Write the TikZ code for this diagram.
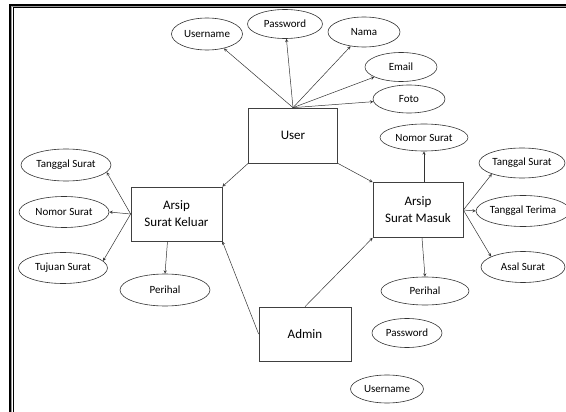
\documentclass[tikz,border=0pt]{standalone}
\usepackage{fontspec}
\setmainfont{Carlito}
\usepackage{tikz}
\usetikzlibrary{shapes.geometric}
\usetikzlibrary{calc}

\begin{document}
\begin{tikzpicture}[x=1pt,y=-1pt,
    entity/.style={draw=black!75,line width=0.7pt,minimum width=90pt,minimum height=55pt,inner sep=0pt,font=\fontsize{13}{17}\selectfont,align=center},
    attr/.style={ellipse,draw=black!80,line width=0.6pt,inner sep=0pt,font=\fontsize{11}{13}\selectfont},
    link/.style={->,draw=black!80,line width=0.5pt,-stealth}]
        \useasboundingbox (0,0) rectangle (566,412);
        \draw[line width=2pt] (10,412) -- (10,5) -- (566,5);
        \draw[line width=0.8pt,draw=black!40] (11.8,412) -- (11.8,6.8) -- (566,6.8);
        \draw[line width=1pt] (13,412) -- (13,8) -- (566,8);

        \node[entity,minimum width=89pt] (user) at (293,135.5) {User};
        \node[entity,minimum width=91pt,minimum height=54pt] (kel) at (176.5,214) {Arsip\\Surat Keluar};
        \node[entity] (msk) at (418,210) {Arsip\\Surat Masuk};
        \node[entity,minimum width=92pt,minimum height=54pt] (adm) at (305,334) {Admin};

        \node[attr,minimum width=71pt,minimum height=32pt] (uname) at (207,34) {Username};
        \node[attr,minimum width=75pt,minimum height=29pt] (pass) at (285,24) {Password};
        \node[attr,minimum width=72pt,minimum height=30pt] (nama) at (364,32) {Nama};
        \node[attr,minimum width=72pt,minimum height=29pt] (email) at (401,67) {Email};
        \node[attr,minimum width=72pt,minimum height=28pt] (foto) at (409,99) {Foto};

        \node[attr,minimum width=88pt,minimum height=27pt] (nsm) at (424,137.5) {Nomor Surat};
        \node[attr,minimum width=86pt,minimum height=30pt] (tsm) at (522,163) {Tanggal Surat};
        \node[attr,minimum width=86pt,minimum height=31pt] (ttm) at (523,211) {Tanggal Terima};
        \node[attr,minimum width=84pt,minimum height=31pt] (asm) at (523,267) {Asal Surat};
        \node[attr,minimum width=88pt,minimum height=28pt] (phm) at (425,291) {Perihal};

        \node[attr,minimum width=90pt,minimum height=32pt] (tsk) at (66,165) {Tanggal Surat};
        \node[attr,minimum width=90pt,minimum height=31pt] (nsk) at (64,212) {Nomor Surat};
        \node[attr,minimum width=89pt,minimum height=31pt] (tjs) at (63,268) {Tujuan Surat};
        \node[attr,minimum width=90pt,minimum height=32pt] (phk) at (165,290) {Perihal};

        \node[attr,minimum width=70pt,minimum height=29pt] (pwd) at (407,333) {Password};
        \node[attr,minimum width=73pt,minimum height=28pt] (uname2) at (387,389) {Username};

        \draw[link] (user.north) -- (uname);
        \draw[link] (user.north) -- (pass);
        \draw[link] (user.north) -- (nama);
        \draw[link] (user.north) -- (email);
        \draw[link] (user.north) -- (foto);

        \draw[link] (user.south west) -- (kel.north east);
        \draw[link] (user.south east) -- (msk.north west);
        \draw[link] (adm.west) -- (kel.south east);
        \draw[link] (adm.north) -- (msk.south west);

        \draw[link] (kel.west) -- (tsk.-10);
        \draw[link] (kel.west) -- (nsk.east);
        \draw[link] (kel.west) -- (tjs.10);
        \draw[link] ($(kel.south)+(-9,0)$) -- (phk.north);

        \draw[link] (nsm.south |- msk.north) -- (nsm.south);
        \draw[link] (msk.east) -- (tsm.200);
        \draw[link] (msk.east) -- (ttm.west);
        \draw[link] (msk.east) -- (asm.162);
        \draw[link] ($(msk.south)+(4,0)$) -- (phm.north);
    \end{tikzpicture}
\end{document}
